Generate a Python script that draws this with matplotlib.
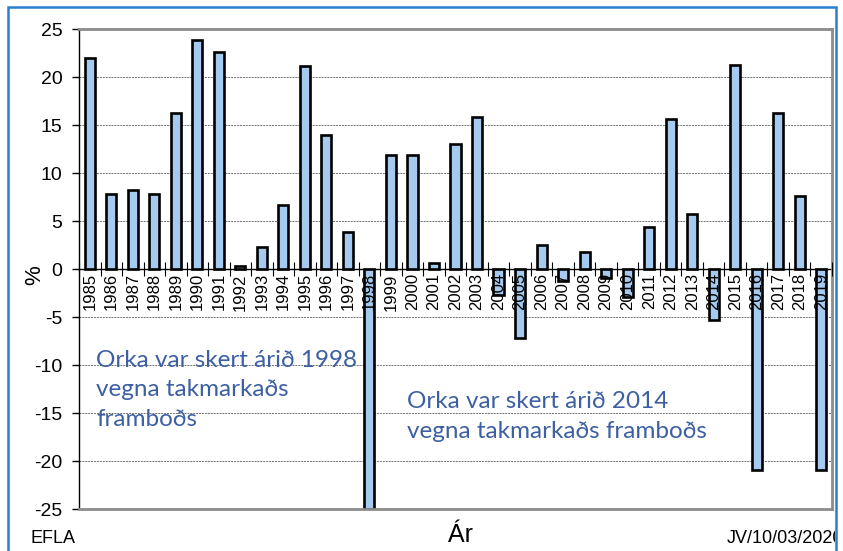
import matplotlib
matplotlib.use("Agg")
import matplotlib.pyplot as plt
from matplotlib.patches import Rectangle
from matplotlib.transforms import Bbox
import numpy as np

plt.rcParams['axes.unicode_minus'] = False
plt.rcParams['font.family'] = ['Liberation Sans', 'DejaVu Sans']

years = [str(y) for y in range(1985, 2020)]
values = [22.0, 7.8, 8.2, 7.8, 16.3, 23.9, 22.6, 0.3, 2.3, 6.7,
          21.1, 14.0, 3.85, -25.0, 11.9, 11.85, 0.6, 13.0, 15.8, -2.7,
          -7.2, 2.5, -1.3, 1.75, -0.9, -2.95, 4.4, 15.6, 5.7, -5.3,
          21.3, -20.9, 16.3, 7.6, -20.9]
yticks = [25, 20, 15, 10, 5, 0, -5, -10, -15, -20, -25]
note1 = "Orka var skert árið 1998\nvegna takmarkaðs\nframboðs"
note2 = "Orka var skert árið 2014\nvegna takmarkaðs framboðs"

W, H = 843, 551
fig = plt.figure(figsize=(W/100, H/100), dpi=100)
ax = fig.add_axes([79/W, 1-509/H, (832-79)/W, (509-29)/H])

x = np.arange(len(years))
ax.bar(x, values, width=0.47, color='#A6C9EF', edgecolor='black',
       linewidth=1.9, zorder=3)

ax.set_xlim(-0.5, len(years)-0.5)
ax.set_ylim(-25, 25)
ax.set_yticks(yticks)
ax.set_yticklabels([str(v) for v in yticks], fontsize=14)
ax.yaxis.grid(True, linestyle=(0, (2, 1)), color='#707070', linewidth=0.7)
ax.set_axisbelow(True)

# x-axis at zero
ax.spines['bottom'].set_position(('data', 0))
ax.spines['bottom'].set_color('black')
ax.spines['bottom'].set_linewidth(1.0)
ax.spines['bottom'].set_zorder(2)
ax.set_xticks(x)
ax.set_xticklabels(years, rotation=90, fontsize=12)
ax.tick_params(axis='x', which='major', length=0, pad=3)
ax.set_xticks(np.arange(len(years)+1) - 0.5, minor=True)
ax.tick_params(axis='x', which='minor', length=10, direction='inout', width=0.8)
ax.tick_params(axis='y', length=5, width=1.0, pad=7)
ax.xaxis.set_zorder(5)

ax.spines['left'].set_color('black')
ax.spines['left'].set_linewidth(1.0)
for s in ['top', 'right']:
    ax.spines[s].set_color('#8C8C8C')
    ax.spines[s].set_linewidth(2.0)
# bottom border of plot area
ax.plot([0, 1], [0, 0], transform=ax.transAxes, color='#8C8C8C', lw=2.0,
        clip_on=False, zorder=4)

ax.text(0.023, (509-426)/480, note1, transform=ax.transAxes, fontsize=17.5,
        family=['Lato', 'DejaVu Sans'], color='#3D5FA3', va='baseline',
        linespacing=1.5, zorder=6)
ax.text(0.436, (509-438)/480, note2, transform=ax.transAxes, fontsize=17.5,
        family=['Lato', 'DejaVu Sans'], color='#3D5FA3', va='baseline',
        linespacing=1.5, zorder=6)

fig.text(35/W, 1-275/H, '%', rotation=90, fontsize=16, ha='center', va='center')
fig.text(460/W, 1-542/H, 'Ár', fontsize=18, ha='center', va='baseline')
fig.text(30/W, 1-543/H, 'EFLA', fontsize=13, ha='left', va='baseline')
t = fig.text(727/W, 1-543/H, 'JV/10/03/2020', fontsize=13, ha='left', va='baseline')
t.set_clip_box(Bbox.from_extents(0, 0, 835, H))
t.set_clip_on(True)

fig.patches.append(Rectangle((8/W, -0.1), (836-8)/W, 1.1-7/H,
                             transform=fig.transFigure, fill=False,
                             edgecolor='#2A7FD0', linewidth=1.8))

fig.savefig('out.png', dpi=100)
